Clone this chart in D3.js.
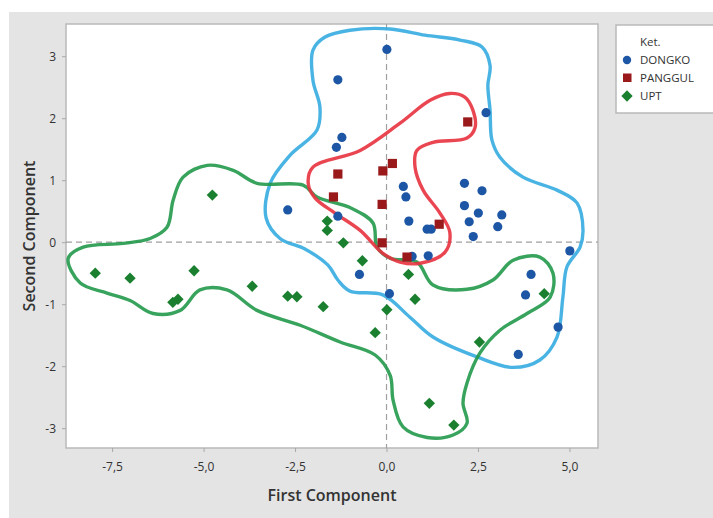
<!DOCTYPE html>
<html>
<head>
<meta charset="utf-8">
<script src="https://cdn.jsdelivr.net/npm/d3@7"></script>
<style>
  body { margin: 0; background: #fff; }
  text { font-family: "Open Sans", "Noto Sans", sans-serif; }
</style>
</head>
<body>
<div id="chart"></div>
<script>
// tick values
var xTicks = [-7.5, -5, -2.5, 0, 2.5, 5]
var yTicks = [-3, -2, -1, 0, 1, 2, 3]

// DONGKO scores [first, second]
var dongko = [
  [0.01, 3.11], [-1.33, 2.62], [-1.22, 1.69], [-1.37, 1.53], [2.72, 2.09],
  [0.46, 0.90], [0.53, 0.73], [2.13, 0.95], [2.61, 0.83], [2.13, 0.59],
  [2.51, 0.47], [3.15, 0.44], [0.61, 0.34], [2.26, 0.33], [3.04, 0.25],
  [1.22, 0.21], [1.11, 0.21], [-2.70, 0.52], [-1.33, 0.42], [2.37, 0.09],
  [5.01, -0.14], [0.70, -0.23], [1.14, -0.22], [-0.74, -0.52], [3.95, -0.52],
  [0.08, -0.83], [3.80, -0.85], [4.69, -1.37], [3.60, -1.81]
]
var panggul = [
  [2.22, 1.94], [0.16, 1.27], [-0.10, 1.15], [-1.33, 1.10], [-1.45, 0.73],
  [-0.12, 0.61], [1.44, 0.29], [-0.12, -0.01], [0.56, -0.24]
]
var upt = [
  [-4.76, 0.76], [-7.96, -0.50], [-7.01, -0.58], [-5.26, -0.46], [-3.67, -0.71],
  [-5.84, -0.97], [-5.70, -0.92], [-2.70, -0.87], [-2.45, -0.88], [-1.73, -1.04],
  [-1.62, 0.34], [-1.62, 0.19], [-1.18, -0.01], [-0.66, -0.30], [0.60, -0.52],
  [0.78, -0.92], [0.01, -1.09], [-0.31, -1.46], [2.54, -1.61], [4.31, -0.83],
  [1.17, -2.60], [1.84, -2.95]
]

// hand drawn group outlines, in score units
var dongkoOutline = [
  [-2.01, 3.10], [-1.68, 3.31], [-1.00, 3.42], [0.10, 3.44], [1.05, 3.34],
  [2.01, 3.26], [2.61, 3.15], [2.83, 2.85], [2.77, 2.53], [2.83, 2.13],
  [2.88, 1.65], [3.10, 1.37], [3.73, 1.05], [4.66, 0.84], [5.21, 0.63],
  [5.37, 0.19], [5.29, -0.08], [4.93, -0.40], [4.82, -0.89], [4.66, -1.53],
  [4.19, -1.90], [3.46, -2.02], [2.47, -1.85], [1.27, -1.53], [0.64, -1.21],
  [-0.10, -0.85], [-1.00, -0.79], [-1.33, -0.61], [-1.60, -0.37], [-2.23, -0.11],
  [-2.91, 0.06], [-3.29, 0.39], [-3.18, 0.95], [-2.64, 1.40], [-1.90, 1.81],
  [-1.82, 2.18], [-2.01, 2.61]
]
var panggulOutline = [
  [-2.01, 1.21], [-0.72, 1.48], [0.37, 1.92], [1.19, 2.29], [1.73, 2.40],
  [2.14, 2.34], [2.36, 2.13], [2.42, 1.85], [2.20, 1.68], [1.27, 1.61],
  [0.83, 1.48], [0.78, 1.21], [1.00, 0.84], [1.46, 0.47], [1.73, 0.16],
  [1.60, -0.16], [0.92, -0.34], [0.37, -0.32], [-0.10, -0.18], [-0.72, 0.19],
  [-1.41, 0.47], [-1.95, 0.71], [-2.14, 0.95]
]
var uptOutline = [
  [-8.70, -0.26], [-8.29, -0.08], [-7.20, -0.02], [-6.46, 0.06], [-6.00, 0.24],
  [-5.83, 0.68], [-5.56, 1.05], [-4.90, 1.24], [-4.19, 1.16], [-3.54, 0.95],
  [-2.28, 0.92], [-1.90, 0.73], [-1.00, 0.56], [-0.37, 0.31], [-0.26, -0.08],
  [0.10, -0.26], [0.83, -0.32], [1.27, -0.69], [2.20, -0.76], [2.91, -0.61],
  [3.46, -0.29], [4.19, -0.24], [4.55, -0.50], [4.47, -0.89], [3.84, -1.15],
  [3.10, -1.42], [2.55, -1.79], [2.20, -2.27], [2.09, -2.60], [2.20, -2.92],
  [1.82, -3.11], [1.11, -3.15], [0.45, -2.98], [0.18, -2.55], [0.10, -2.15],
  [-0.31, -1.82], [-1.27, -1.61], [-2.36, -1.34], [-3.54, -1.10], [-4.36, -0.77],
  [-5.10, -0.77], [-5.64, -1.10], [-6.38, -1.15], [-7.01, -0.94], [-7.64, -0.82],
  [-8.37, -0.66]
]

var groups = ["DONGKO", "PANGGUL", "UPT"]

var width = 713
height = 518
var plot = { left: 66, top: 24, right: 598, bottom: 448 }

var svg = d3.select("#chart")
    .append("svg")
    .attr("width", width)
    .attr("height", height)

// grey background panel
svg.append("rect")
    .attr("x", 9).attr("y", 12)
    .attr("width", width - 9).attr("height", height - 12)
    .attr("fill", "#e4e4e4")

svg.append("rect")
    .attr("x", plot.left).attr("y", plot.top)
    .attr("width", plot.right - plot.left).attr("height", plot.bottom - plot.top)
    .attr("fill", "#fff")
    .attr("stroke", "#b9b9b9")
    .attr("stroke-width", 1.5)

var x = d3.scaleLinear().domain([-8.76, 5.78]).range([plot.left, plot.right])
var y = d3.scaleLinear().domain([-3.32, 3.52]).range([plot.bottom, plot.top])

var fmt = function (d) { return d3.format(".1f")(d).replace(".", ",").replace("\u2212", "-") }

var xAxis = svg.append("g")
    .attr("transform", "translate(0," + plot.bottom + ")")
    .call(d3.axisBottom(x).tickValues(xTicks).tickFormat(fmt).tickSize(4).tickPadding(10))
var yAxis = svg.append("g")
    .attr("transform", "translate(" + plot.left + ",0)")
    .call(d3.axisLeft(y).tickValues(yTicks).tickFormat(function (d) { return String(d) }).tickSize(4).tickPadding(6))

svg.selectAll(".domain").remove()
svg.selectAll(".tick line").attr("stroke", "#a8a8a8")
svg.selectAll(".tick text")
    .attr("fill", "#333")
    .style("font-size", "12px")

// reference lines at zero
svg.append("line")
    .attr("x1", x(0)).attr("x2", x(0))
    .attr("y1", plot.top).attr("y2", plot.bottom)
    .attr("stroke", "#a0a0a0").attr("stroke-dasharray", "6,4").attr("stroke-width", 1.2)
svg.append("line")
    .attr("x1", plot.left).attr("x2", plot.right)
    .attr("y1", y(0)).attr("y2", y(0))
    .attr("stroke", "#a0a0a0").attr("stroke-dasharray", "6,4").attr("stroke-width", 1.2)

// outlines
var outline = d3.line()
    .x(function (d) { return x(d[0]) })
    .y(function (d) { return y(d[1]) })
    .curve(d3.curveCatmullRomClosed.alpha(0.5))

var outlines = [
  { pts: dongkoOutline, color: "#35ace0" },
  { pts: uptOutline, color: "#22994a" },
  { pts: panggulOutline, color: "#e8323f" }
]
outlines.forEach(function (o) {
    svg.append("path")
        .attr("d", outline(o.pts))
        .attr("fill", "none")
        .attr("stroke", o.color)
        .attr("stroke-width", 3.4)
        .attr("stroke-linejoin", "round")
        .style("opacity", 0.9)
})

// points
svg.selectAll("circle.dongko")
    .data(dongko)
    .enter()
    .append("circle")
    .attr("cx", function (d) { return x(d[0]) })
    .attr("cy", function (d) { return y(d[1]) })
    .attr("r", 4.6)
    .attr("fill", "#1d56a5")

svg.selectAll("rect.panggul")
    .data(panggul)
    .enter()
    .append("rect")
    .attr("x", function (d) { return x(d[0]) - 4.6 })
    .attr("y", function (d) { return y(d[1]) - 4.6 })
    .attr("width", 9.2)
    .attr("height", 9.2)
    .attr("fill", "#9a1a1c")

var diamond = d3.symbol().type(d3.symbolDiamond2).size(82)
svg.selectAll("path.upt")
    .data(upt)
    .enter()
    .append("path")
    .attr("d", diamond)
    .attr("transform", function (d) { return "translate(" + x(d[0]) + "," + y(d[1]) + ")" })
    .attr("fill", "#1a8030")

// axis titles
svg.append("text")
    .attr("x", (plot.left + plot.right) / 2)
    .attr("y", 501)
    .attr("text-anchor", "middle")
    .style("font-size", "16px")
    .style("font-weight", "600")
    .attr("fill", "#333")
    .text("First Component")

svg.append("text")
    .attr("transform", "translate(35," + ((plot.top + plot.bottom) / 2) + ") rotate(-90)")
    .attr("text-anchor", "middle")
    .style("font-size", "16px")
    .style("font-weight", "600")
    .attr("fill", "#333")
    .text("Second Component")

// legend
svg.append("rect")
    .attr("x", 616).attr("y", 25)
    .attr("width", 110).attr("height", 88)
    .attr("fill", "#fff")
    .attr("stroke", "#b9b9b9")
    .attr("stroke-width", 1.5)

svg.append("text")
    .attr("x", 640).attr("y", 46)
    .style("font-size", "11.5px")
    .attr("fill", "#333")
    .text("Ket.")

groups.forEach(function (g, i) {
    var ly = 64 + i * 18
    if (i == 0) {
        svg.append("circle").attr("cx", 627).attr("cy", ly - 4).attr("r", 4.2).attr("fill", "#1d56a5")
    } else if (i == 1) {
        svg.append("rect").attr("x", 623).attr("y", ly - 8.5).attr("width", 8.5).attr("height", 8.5).attr("fill", "#9a1a1c")
    } else {
        svg.append("path").attr("d", diamond).attr("transform", "translate(627," + (ly - 4) + ")").attr("fill", "#1a8030")
    }
    svg.append("text")
        .attr("x", 640).attr("y", ly)
        .style("font-size", "11.5px")
        .attr("fill", "#333")
        .text(g)
})
</script>
</body>
</html>
